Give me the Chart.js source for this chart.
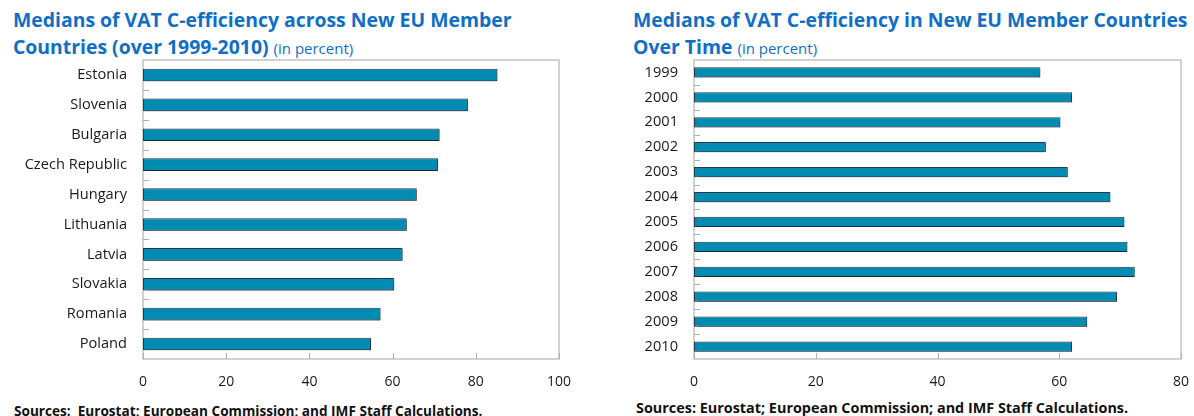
<!DOCTYPE html>
<html>
<head>
<meta charset="utf-8">
<script src="https://cdn.jsdelivr.net/npm/chart.js@4.4.1/dist/chart.umd.min.js"></script>
<style>
  body { margin: 0; background: #fff; width: 1194px; height: 416px; overflow: hidden; position: relative; font-family: "Open Sans", sans-serif; }
  .titulo { position: absolute; color: #0f6fc6; font-weight: bold; font-size: 19.4px; line-height: 27px; white-space: nowrap; }
  .unidade { font-weight: normal; font-size: 15px; }
  .fonte { position: absolute; color: #111; font-weight: bold; white-space: nowrap; }
  canvas { position: absolute; top: 55px; }
</style>
</head>
<body>
<div class="titulo" style="left:13px; top:6px;">Medians of VAT C-efficiency across New EU Member<br>Countries (over 1999-2010) <span class="unidade">(in percent)</span></div>
<div class="titulo" style="left:633px; top:6px;">Medians of VAT C-efficiency in New EU Member Countries<br>Over Time <span class="unidade">(in percent)</span></div>
<canvas id="chart-paises" width="597" height="340" style="left:0px;"></canvas>
<canvas id="chart-anos" width="597" height="340" style="left:597px;"></canvas>
<div class="fonte" style="left:14px; top:401px; font-size:13.6px;">Sources:&nbsp; Eurostat; European Commission; and IMF Staff Calculations.</div>
<div class="fonte" style="left:636px; top:398px; font-size:14.4px;">Sources: Eurostat; European Commission; and IMF Staff Calculations.</div>

<script>
var paises = ["Estonia", "Slovenia", "Bulgaria", "Czech Republic", "Hungary", "Lithuania", "Latvia", "Slovakia", "Romania", "Poland"];
var medianasPaises = [85.2, 78.1, 71.3, 70.9, 65.8, 63.4, 62.4, 60.4, 57.1, 54.8];
var ticksPaises = [0, 20, 40, 60, 80, 100];

var anos = ["1999", "2000", "2001", "2002", "2003", "2004", "2005", "2006", "2007", "2008", "2009", "2010"];
var medianasAnos = [56.9, 62.1, 60.2, 57.8, 61.4, 68.4, 70.7, 71.2, 72.4, 69.5, 64.6, 62.1];
var ticksAnos = [0, 20, 40, 60, 80];

// moldura cinza + tracinhos internos dos eixos
var moldura = {
  id: "moldura",
  beforeDatasetsDraw: function (chart) {
    var ctx = chart.ctx;
    var a = chart.chartArea;
    var x = chart.scales.x;
    var y = chart.scales.y;
    ctx.save();
    ctx.strokeStyle = "#c4c4c4";
    ctx.lineWidth = 1.5;
    ctx.strokeRect(a.left, a.top, a.right - a.left, a.bottom - a.top);

    ctx.strokeStyle = "#b0b0b0";
    ctx.lineWidth = 1;
    ctx.beginPath();
    for (var i = 0; i < x.ticks.length; i++) {
      var px = Math.round(x.getPixelForValue(x.ticks[i].value)) + 0.5;
      ctx.moveTo(px, a.bottom);
      ctx.lineTo(px, a.bottom - 6);
    }
    var n = chart.data.labels.length;
    var banda = (a.bottom - a.top) / n;
    for (var j = 1; j < n; j++) {
      var py = Math.round(y.getPixelForValue(j) - banda / 2) + 0.5;
      ctx.moveTo(a.left, py);
      ctx.lineTo(a.left + 6, py);
    }
    ctx.stroke();
    ctx.restore();

    // sombrinha das barras
    ctx.save();
    ctx.shadowColor = "rgba(0, 0, 0, 0.35)";
    ctx.shadowOffsetX = 1;
    ctx.shadowOffsetY = 1;
    ctx.shadowBlur = 1;
  },
  afterDatasetsDraw: function (chart) {
    chart.ctx.restore();
  }
};

function criarGrafico(id, labels, dados, ticks, larguraEixo, padDireita, espessura) {
  var ctx = document.getElementById(id).getContext("2d");
  return new Chart(ctx, {
    type: "bar",
    data: {
      labels: labels,
      datasets: [
        {
          data: dados,
          backgroundColor: "#008bb2",
          borderColor: "#213f4e",
          borderWidth: 1,
          borderSkipped: false,
          categoryPercentage: 1,
          barPercentage: espessura,
        },
      ],
    },
    options: {
      indexAxis: "y",
      responsive: false,
      animation: false,
      devicePixelRatio: 1,
      layout: { padding: { top: 5, right: padDireita, left: 0, bottom: 0 } },
      plugins: {
        legend: { display: false },
        tooltip: { enabled: false },
      },
      scales: {
        x: {
          min: ticks[0],
          max: ticks[ticks.length - 1],
          afterBuildTicks: function (escala) {
            escala.ticks = ticks.map(function (v) { return { value: v }; });
          },
          afterFit: function (escala) {
            escala.height = 36;
            escala.paddingLeft = 0;
            escala.paddingRight = 0;
          },
          grid: { display: false, drawTicks: false },
          border: { display: false },
          ticks: {
            padding: 15,
            color: "#1a1a1a",
            font: { size: 14, family: "Open Sans" },
          },
        },
        y: {
          afterFit: function (escala) {
            escala.width = larguraEixo;
            escala.paddingTop = 0;
            escala.paddingBottom = 0;
          },
          grid: { display: false, drawTicks: false },
          border: { display: false },
          ticks: {
            padding: 16,
            color: "#1a1a1a",
            font: { size: 14.6, family: "Open Sans" },
          },
        },
      },
    },
    plugins: [moldura],
  });
}

criarGrafico("chart-paises", paises, medianasPaises, ticksPaises, 143, 38, 0.42);
criarGrafico("chart-anos", anos, medianasAnos, ticksAnos, 97, 13, 0.41);
</script>
</body>
</html>
